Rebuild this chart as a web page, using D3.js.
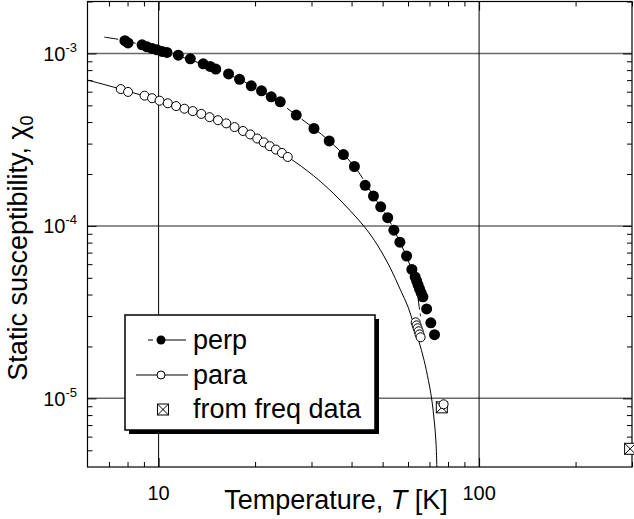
<!DOCTYPE html>
<html>
<head>
<meta charset="utf-8">
<script src="https://cdn.jsdelivr.net/npm/d3@7"></script>
<style>
  body { margin: 0; background: #fff; }
  svg { display: block; font-family: "Liberation Sans", Arial, sans-serif; }
</style>
</head>
<body>
<div id="chart"></div>
<script>
// perp (filled circles)
const perpT = [7.85, 8.03, 8.88, 9.20, 9.54, 9.89, 10.25, 10.62, 11.52, 12.56, 13.78, 14.49, 15.08,
  16.53, 17.89, 19.46, 20.95, 22.46, 23.96, 26.88, 30.53, 34.07, 37.73, 40.83, 44.11, 46.82, 49.32,
  51.86, 54.21, 56.6, 59.4, 61.7, 63.15, 63.85, 64.5, 65.2, 65.95, 66.8, 68.6, 70.7, 72.6];
const perpChi = [1.186e-3, 1.15e-3, 1.122e-3, 1.092e-3, 1.069e-3, 1.049e-3, 1.027e-3, 1.013e-3, 9.77e-4,
  9.30e-4, 8.70e-4, 8.40e-4, 8.11e-4, 7.61e-4, 7.08e-4, 6.49e-4, 6.07e-4, 5.60e-4, 5.24e-4, 4.39e-4,
  3.67e-4, 3.11e-4, 2.59e-4, 2.21e-4, 1.72e-4, 1.49e-4, 1.29e-4, 1.116e-4, 9.44e-5, 8.04e-5, 6.69e-5,
  5.59e-5, 5.06e-5, 4.80e-5, 4.55e-5, 4.31e-5, 4.09e-5, 3.88e-5, 3.30e-5, 2.74e-5, 2.34e-5];

// para (open circles)
const paraT = [7.62, 8.03, 9.04, 9.54, 10.07, 10.68, 11.34, 12.04, 12.78, 13.59, 14.42, 15.32, 16.26,
  17.26, 18.34, 19.32, 20.31, 21.28, 22.22, 23.23, 24.26, 25.29, 63.4, 63.85, 64.3, 64.8, 65.2, 65.7, 77.5];
const paraChi = [6.21e-4, 5.98e-4, 5.69e-4, 5.50e-4, 5.32e-4, 5.14e-4, 4.95e-4, 4.78e-4, 4.63e-4,
  4.46e-4, 4.27e-4, 4.10e-4, 3.93e-4, 3.74e-4, 3.55e-4, 3.39e-4, 3.21e-4, 3.05e-4, 2.90e-4, 2.77e-4,
  2.65e-4, 2.51e-4, 2.76e-5, 2.65e-5, 2.55e-5, 2.45e-5, 2.35e-5, 2.26e-5, 9.24e-6];

// from freq data (crossed squares)
const freqT = [76.5, 296];
const freqChi = [8.87e-6, 5.1e-6];

// fit curves
const perpFitT = [6.77, 7.85, 10.62, 15.08, 20.95, 26.88, 34.07, 40.83, 46.82, 51.86, 56.6, 60.06, 62.5, 64.1, 65.24, 65.71];
const perpFitChi = [1.243e-3, 1.186e-3, 1.013e-3, 8.11e-4, 6.07e-4, 4.39e-4, 3.11e-4, 2.21e-4, 1.49e-4,
  1.116e-4, 8.04e-5, 6.32e-5, 5.04e-5, 4.12e-5, 3.24e-5, 2.99e-5];
const paraFitT = [6.01, 7.62, 10.07, 13.59, 18.34, 25.29, 30.43, 35.13, 39.61, 44.11, 48.08, 52.8,
  56.72, 60.06, 62.4, 64.76, 67.37, 69.49, 70.7, 71.89, 72.77, 73.45, 73.82];
const paraFitChi = [7.0e-4, 6.21e-4, 5.32e-4, 4.46e-4, 3.55e-4, 2.51e-4, 1.955e-4, 1.541e-4, 1.225e-4,
  9.76e-5, 7.78e-5, 5.72e-5, 4.29e-5, 3.38e-5, 2.72e-5, 2.17e-5, 1.66e-5, 1.27e-5, 1.066e-5, 8.54e-6,
  6.82e-6, 5.34e-6, 4.0e-6];

// axes
const xMajor = [10, 100];
const xMajorLabels = ["10", "100"];
const xMinor = [7, 8, 9, 20, 30, 40, 50, 60, 70, 80, 90, 200, 300];
const yMajor = [1e-3, 1e-4, 1e-5];
const yMajorExp = ["-3", "-4", "-5"];
const yMinor = [5e-6, 6e-6, 7e-6, 8e-6, 9e-6, 2e-5, 3e-5, 4e-5, 5e-5, 6e-5, 7e-5, 8e-5, 9e-5,
  2e-4, 3e-4, 4e-4, 5e-4, 6e-4, 7e-4, 8e-4, 9e-4, 2e-3];

const legendLabels = ["perp", "para", "from freq data"];

const width = 634, height = 519;
const pLeft = 87.5, pRight = 632, pTop = 1.5, pBottom = 467;

const svg = d3.select("#chart").append("svg")
  .attr("width", width).attr("height", height);

const x = d3.scaleLog().domain([6, 300]).range([pLeft, pRight]);
const y = d3.scaleLog().domain([4e-6, 2e-3]).range([pBottom, pTop]);

svg.append("defs").append("clipPath").attr("id", "plotclip")
  .append("rect").attr("x", pLeft).attr("y", pTop)
  .attr("width", pRight - pLeft).attr("height", pBottom - pTop);

// grid
svg.append("g").selectAll("line").data(yMajor).enter().append("line")
  .attr("x1", pLeft).attr("x2", pRight)
  .attr("y1", d => y(d)).attr("y2", d => y(d))
  .attr("stroke", "#6a6a6a").attr("stroke-width", 1.5);
svg.append("g").selectAll("line").data(xMajor).enter().append("line")
  .attr("x1", d => x(d)).attr("x2", d => x(d))
  .attr("y1", pTop).attr("y2", pBottom)
  .attr("stroke", "#000").attr("stroke-width", 1);

// ticks on all four sides, pointing inwards
function tickAxis(axis, scale, vals, size, tx, ty) {
  const g = svg.append("g")
    .attr("transform", `translate(${tx},${ty})`)
    .call(axis(scale).tickValues(vals).tickSize(size).tickFormat(""));
  g.select(".domain").remove();
  g.selectAll("line").attr("stroke", "#000").attr("stroke-width", 1);
}
tickAxis(d3.axisBottom, x, xMinor, -5, 0, pBottom);
tickAxis(d3.axisTop, x, xMinor, -5, 0, pTop);
tickAxis(d3.axisLeft, y, yMinor, -5, pLeft, 0);
tickAxis(d3.axisRight, y, yMinor, -5, pRight, 0);
tickAxis(d3.axisLeft, y, yMajor, -9, pLeft, 0);
tickAxis(d3.axisRight, y, yMajor, -9, pRight, 0);
tickAxis(d3.axisBottom, x, xMajor, -9, 0, pBottom);
tickAxis(d3.axisTop, x, xMajor, -9, 0, pTop);

// frame
svg.append("rect")
  .attr("x", pLeft).attr("y", pTop)
  .attr("width", pRight - pLeft).attr("height", pBottom - pTop)
  .attr("fill", "none").attr("stroke", "#000").attr("stroke-width", 1.2);

// fit lines
const line = d3.line().x(d => x(d[0])).y(d => y(d[1])).curve(d3.curveCatmullRom.alpha(0.5));
const plot = svg.append("g").attr("clip-path", "url(#plotclip)");
plot.append("path")
  .datum(paraFitT.map((t, i) => [t, paraFitChi[i]]))
  .attr("d", line).attr("fill", "none").attr("stroke", "#000").attr("stroke-width", 1);
plot.append("path")
  .datum(perpFitT.map((t, i) => [t, perpFitChi[i]]))
  .attr("d", line).attr("fill", "none").attr("stroke", "#000").attr("stroke-width", 1)
  .attr("stroke-dasharray", "14,4");

// freq squares
const sq = 11;
const freq = svg.append("g").selectAll("g")
  .data(freqT.map((t, i) => [t, freqChi[i]])).enter().append("g")
  .attr("transform", d => `translate(${x(d[0])},${y(d[1])})`);
freq.append("rect").attr("x", -sq / 2).attr("y", -sq / 2).attr("width", sq).attr("height", sq)
  .attr("fill", "#fff").attr("stroke", "#000").attr("stroke-width", 1);
freq.append("path").attr("d", `M${-sq / 2},${-sq / 2}L${sq / 2},${sq / 2}M${sq / 2},${-sq / 2}L${-sq / 2},${sq / 2}`)
  .attr("stroke", "#000").attr("stroke-width", 1);

// para points
svg.append("g").selectAll("circle")
  .data(paraT.map((t, i) => [t, paraChi[i]])).enter().append("circle")
  .attr("cx", d => x(d[0])).attr("cy", d => y(d[1])).attr("r", 4.5)
  .attr("fill", "#fff").attr("stroke", "#000").attr("stroke-width", 1);

// perp points
svg.append("g").selectAll("circle")
  .data(perpT.map((t, i) => [t, perpChi[i]])).enter().append("circle")
  .attr("cx", d => x(d[0])).attr("cy", d => y(d[1])).attr("r", 5.5)
  .attr("fill", "#000");

// tick labels
svg.append("g").selectAll("text").data(xMajor).enter().append("text")
  .attr("x", d => x(d)).attr("y", 500)
  .attr("text-anchor", "middle").attr("font-size", 20)
  .text((d, i) => xMajorLabels[i]);

const yl = svg.append("g").selectAll("text").data(yMajor).enter().append("text")
  .attr("x", 77).attr("y", d => y(d) + 7.5)
  .attr("text-anchor", "end").attr("font-size", 20);
yl.append("tspan").text("10");
yl.append("tspan").attr("dy", -9).attr("font-size", 13).text((d, i) => yMajorExp[i]);

// axis titles
const xt = svg.append("text")
  .attr("x", 336).attr("y", 509)
  .attr("text-anchor", "middle").attr("font-size", 27);
xt.append("tspan").text("Temperature, ");
xt.append("tspan").attr("font-style", "italic").text("T");
xt.append("tspan").text(" [K]");

const yt = svg.append("text")
  .attr("transform", "translate(27,248) rotate(-90)")
  .attr("text-anchor", "middle").attr("font-size", 27);
yt.append("tspan").text("Static susceptibility, χ");
yt.append("tspan").attr("dy", 6).attr("font-size", 18).text("0");

// legend
const lg = svg.append("g");
lg.append("rect").attr("x", 129).attr("y", 319).attr("width", 250).attr("height", 115).attr("fill", "#000");
lg.append("rect").attr("x", 125).attr("y", 315).attr("width", 250).attr("height", 115)
  .attr("fill", "#fff").attr("stroke", "#000").attr("stroke-width", 1.5);

const rowY = [340, 375, 409.5];
// perp
lg.append("line").attr("x1", 148).attr("x2", 186).attr("y1", rowY[0]).attr("y2", rowY[0])
  .attr("stroke", "#000").attr("stroke-width", 1)
  .attr("stroke-dasharray", "5,4,40");
lg.append("circle").attr("cx", 161).attr("cy", rowY[0]).attr("r", 4.5).attr("fill", "#000");
// para
lg.append("line").attr("x1", 136).attr("x2", 188).attr("y1", rowY[1]).attr("y2", rowY[1])
  .attr("stroke", "#000").attr("stroke-width", 1);
lg.append("circle").attr("cx", 161).attr("cy", rowY[1]).attr("r", 4)
  .attr("fill", "#fff").attr("stroke", "#000").attr("stroke-width", 1);
// freq
const lsq = 11;
const lf = lg.append("g").attr("transform", `translate(163,${rowY[2]})`);
lf.append("rect").attr("x", -lsq / 2).attr("y", -lsq / 2).attr("width", lsq).attr("height", lsq)
  .attr("fill", "#fff").attr("stroke", "#000").attr("stroke-width", 1);
lf.append("path").attr("d", `M${-lsq / 2},${-lsq / 2}L${lsq / 2},${lsq / 2}M${lsq / 2},${-lsq / 2}L${-lsq / 2},${lsq / 2}`)
  .attr("stroke", "#000").attr("stroke-width", 1);

lg.selectAll("text.lab").data(legendLabels).enter().append("text")
  .attr("class", "lab")
  .attr("x", 193).attr("y", (d, i) => rowY[i] + 8.5)
  .attr("font-size", 27)
  .text(d => d);
</script>
</body>
</html>
